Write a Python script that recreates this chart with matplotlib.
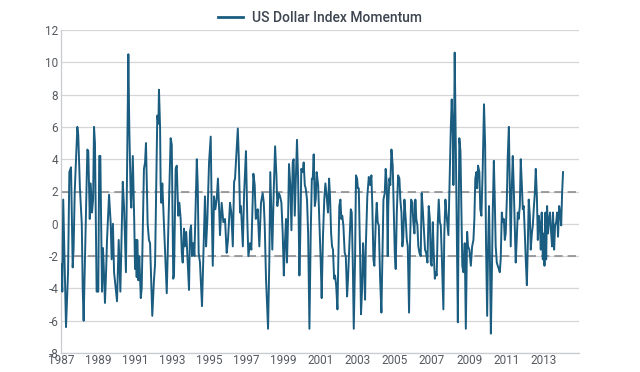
import matplotlib
matplotlib.use("Agg")
import matplotlib.pyplot as plt
import numpy as np

series_name = "US Dollar Index Momentum"

# Time (decimal years) and momentum values
years = [
    1987.00, 1987.07, 1987.12, 1987.27, 1987.38, 1987.45, 1987.54, 1987.63, 1987.68, 1987.74,
    1987.88, 1987.93, 1988.02, 1988.12, 1988.17, 1988.22, 1988.42, 1988.47, 1988.55, 1988.60,
    1988.67, 1988.73, 1988.78, 1988.83, 1988.92, 1989.01, 1989.06, 1989.12, 1989.21, 1989.26,
    1989.30, 1989.37, 1989.43, 1989.48, 1989.59, 1989.68, 1989.73, 1989.80, 1989.86, 1990.02,
    1990.11, 1990.20, 1990.33, 1990.40, 1990.50, 1990.63, 1990.68, 1990.76, 1990.79, 1990.87,
    1990.95, 1990.99, 1991.03, 1991.08, 1991.11, 1991.17, 1991.22, 1991.30, 1991.35, 1991.47,
    1991.53, 1991.58, 1991.67, 1991.74, 1991.80, 1991.85, 1991.92, 1992.01, 1992.07, 1992.19,
    1992.25, 1992.28, 1992.34, 1992.37, 1992.41, 1992.46, 1992.51, 1992.61, 1992.70, 1992.78,
    1992.91, 1992.97, 1993.05, 1993.09, 1993.18, 1993.24, 1993.32, 1993.38, 1993.45, 1993.51,
    1993.56, 1993.63, 1993.68, 1993.75, 1993.83, 1993.90, 1993.95, 1994.01, 1994.06, 1994.13,
    1994.19, 1994.32, 1994.37, 1994.42, 1994.49, 1994.60, 1994.67, 1994.76, 1994.82, 1994.89,
    1994.98, 1995.07, 1995.12, 1995.18, 1995.25, 1995.32, 1995.39, 1995.46, 1995.53, 1995.57,
    1995.66, 1995.75, 1995.84, 1995.93, 1996.00, 1996.11, 1996.18, 1996.26, 1996.33, 1996.38,
    1996.45, 1996.53, 1996.58, 1996.65, 1996.70, 1996.80, 1996.87, 1996.97, 1997.04, 1997.10,
    1997.19, 1997.26, 1997.37, 1997.44, 1997.50, 1997.55, 1997.60, 1997.69, 1997.78, 1997.87,
    1997.93, 1997.98, 1998.05, 1998.16, 1998.23, 1998.28, 1998.34, 1998.39, 1998.47, 1998.54,
    1998.61, 1998.66, 1998.74, 1998.81, 1998.88, 1998.95, 1999.01, 1999.06, 1999.13, 1999.18,
    1999.24, 1999.29, 1999.36, 1999.42, 1999.49, 1999.54, 1999.60, 1999.67, 1999.72, 1999.78,
    1999.85, 1999.90, 1999.95, 2000.03, 2000.08, 2000.14, 2000.19, 2000.26, 2000.32, 2000.39,
    2000.46, 2000.52, 2000.57, 2000.62, 2000.68, 2000.73, 2000.78, 2000.86, 2000.93, 2001.00,
    2001.05, 2001.12, 2001.19, 2001.25, 2001.32, 2001.39, 2001.45, 2001.50, 2001.56, 2001.61,
    2001.66, 2001.72, 2001.77, 2001.83, 2001.90, 2001.95, 2002.00, 2002.06, 2002.11, 2002.16,
    2002.22, 2002.29, 2002.35, 2002.42, 2002.47, 2002.54, 2002.62, 2002.67, 2002.73, 2002.78,
    2002.85, 2002.90, 2002.96, 2003.00, 2003.05, 2003.12, 2003.17, 2003.23, 2003.28, 2003.33,
    2003.39, 2003.43, 2003.51, 2003.59, 2003.66, 2003.73, 2003.78, 2003.84, 2003.89, 2003.97,
    2004.02, 2004.07, 2004.13, 2004.20, 2004.27, 2004.32, 2004.38, 2004.45, 2004.50, 2004.56,
    2004.61, 2004.64, 2004.70, 2004.75, 2004.81, 2004.88, 2004.94, 2004.99, 2005.04, 2005.10,
    2005.17, 2005.24, 2005.29, 2005.35, 2005.40, 2005.45, 2005.51, 2005.58, 2005.64, 2005.69,
    2005.76, 2005.81, 2005.87, 2005.94, 2005.99, 2006.05, 2006.10, 2006.15, 2006.21, 2006.26,
    2006.32, 2006.39, 2006.44, 2006.50, 2006.57, 2006.62, 2006.68, 2006.75, 2006.82, 2006.88,
    2006.93, 2006.98, 2007.04, 2007.09, 2007.15, 2007.20, 2007.25, 2007.31, 2007.36, 2007.42,
    2007.47, 2007.52, 2007.58, 2007.61, 2007.66, 2007.72, 2007.77, 2007.83, 2007.88, 2007.95,
    2008.01, 2008.06, 2008.12, 2008.15, 2008.19, 2008.22, 2008.28, 2008.33, 2008.39, 2008.42,
    2008.47, 2008.53, 2008.58, 2008.63, 2008.69, 2008.76, 2008.82, 2008.89, 2008.94, 2009.01,
    2009.09, 2009.16, 2009.23, 2009.28, 2009.33, 2009.39, 2009.43, 2009.48, 2009.55, 2009.60,
    2009.66, 2009.73, 2009.80, 2009.86, 2009.91, 2009.97, 2010.02, 2010.07, 2010.11, 2010.17,
    2010.22, 2010.27, 2010.33, 2010.38, 2010.43, 2010.49, 2010.54, 2010.60, 2010.65, 2010.70,
    2010.76, 2010.81, 2010.87, 2010.92, 2010.97, 2011.03, 2011.08, 2011.14, 2011.19, 2011.24,
    2011.30, 2011.35, 2011.40, 2011.46, 2011.51, 2011.57, 2011.62, 2011.67, 2011.73, 2011.78,
    2011.84, 2011.89, 2011.94, 2012.00, 2012.05, 2012.11, 2012.16, 2012.21, 2012.27, 2012.32,
    2012.38, 2012.43, 2012.48, 2012.54, 2012.59, 2012.65, 2012.70, 2012.75, 2012.81, 2012.86,
    2012.91, 2012.97, 2013.02, 2013.06, 2013.11, 2013.15, 2013.20, 2013.25, 2013.31, 2013.36,
    2013.42, 2013.47, 2013.52, 2013.58, 2013.63, 2013.69, 2013.74, 2013.79, 2013.85, 2013.90,
    2013.96, 2014.01, 2014.06,
]
momentum = [
    -2.5, -4.2, 1.5, -6.4, -3.0, 3.2, 3.5, -2.7, -1.5, 2.0,
    6.0, 5.5, 2.2, 0.0, -4.0, -6.0, 4.6, 4.5, 0.3, 2.5,
    0.7, 1.5, 6.0, 5.0, -4.2, -4.2, 4.2, 4.2, -4.2, -1.5,
    -2.5, -4.9, -3.0, -1.0, 1.8, 0.0, -2.2, 0.0, -3.0, -4.8,
    -1.0, -4.2, 2.6, 1.0, -3.0, 10.5, 6.0, 1.5, 1.0, 4.2,
    0.0, -2.8, -1.0, -3.3, -1.0, -3.5, -2.0, -4.6, -4.0, 3.4,
    3.8, 5.0, 0.0, -1.0, -1.2, -3.0, -5.7, -3.5, -2.5, 6.7,
    6.2, 8.3, 6.0, 2.5, 1.3, 2.5, 1.1, -1.8, -4.3, -0.5,
    5.3, 4.9, -3.4, -3.2, 3.4, 3.6, 0.5, 1.3, 0.3, -1.8,
    -2.4, -0.3, -1.4, -0.5, -2.4, -4.1, -0.5, -0.1, -2.0, -1.2,
    -2.0, 4.0, 2.4, -1.8, -2.4, -5.1, -2.2, 1.7, -1.4, 0.3,
    3.8, 5.4, 1.1, -2.6, 1.7, 0.9, 1.5, 2.8, 0.7, -0.7,
    1.3, 0.1, 0.3, -1.8, -1.0, 1.3, 0.7, -1.4, 2.6, 2.8,
    4.2, 5.9, 4.2, 0.7, 1.1, -1.4, 1.9, 4.5, 0.3, -2.0,
    -1.2, -1.6, 3.1, 2.4, 0.3, 0.5, 0.9, -1.4, 1.3, 1.9,
    1.3, -0.1, -3.4, -6.5, -2.2, 3.2, 0.7, -1.6, 2.2, 4.8,
    3.0, 1.1, 1.9, 1.7, 1.3, -0.6, -3.2, -1.4, 0.3, -2.4,
    0.3, 3.7, 2.4, -0.4, 3.8, 4.0, 0.5, 3.2, 5.2, 2.8,
    -3.2, -0.6, 3.4, 3.2, 3.8, 2.4, 2.2, 1.5, -0.6, -6.5,
    -0.6, 2.8, 2.8, 4.3, 1.1, 1.5, 3.2, 2.4, -0.1, -2.4,
    -4.6, -0.8, 1.5, 2.5, 1.7, 0.7, 2.8, 1.7, -0.6, -1.4,
    -1.6, -3.4, -3.2, -3.8, -5.3, -2.2, 1.1, 1.5, 0.3, 0.5,
    -0.1, -1.8, -2.0, -4.5, -3.4, -1.4, 0.9, 0.7, -2.6, -6.5,
    -2.2, 3.0, 2.8, 2.2, 2.2, -1.8, -5.6, -4.0, -1.2, -2.4,
    -4.7, -1.4, 1.7, 2.9, 2.4, 3.0, 1.1, -2.2, -2.6, 0.3,
    1.3, 0.1, -0.1, -3.4, -5.5, -2.4, 1.5, 1.9, 3.4, 2.4,
    -2.0, 1.1, 2.8, 2.4, 4.6, 3.6, 0.7, -1.8, -2.8, 0.7,
    3.0, 2.8, 1.5, 0.7, -1.4, -0.8, 1.5, 0.3, -1.0, -1.4,
    -5.5, -1.4, 1.5, 1.3, 0.1, -0.6, 1.5, 0.3, -0.1, -1.4,
    -1.8, -2.0, 1.9, 0.9, -0.6, -1.6, -1.8, -2.4, 1.1, 0.3,
    -2.4, -2.6, 0.1, -1.8, -3.4, -3.0, -3.2, 0.1, 1.5, 0.1,
    -0.1, -1.8, -4.1, -5.3, -0.6, 1.5, 0.7, -0.1, -0.7, 2.8,
    5.9, 7.7, 5.5, 2.4, 6.1, 10.6, 5.0, -0.1, -6.1, -1.4,
    5.3, 4.5, 0.9, -2.6, -3.0, -1.2, -6.5, -0.5, -1.4, -1.6,
    -2.6, -1.4, -1.0, 0.3, 2.8, 3.2, 2.2, 3.6, 3.2, 0.9,
    0.5, 3.4, 7.4, 4.9, -1.4, -5.7, -1.4, 1.1, -1.4, -6.8,
    -3.4, 0.7, 3.9, 1.5, -1.4, -2.4, -2.6, -2.8, -3.0, -2.2,
    0.7, 0.1, 0.3, -1.0, -0.6, 1.5, 4.2, 6.0, 2.4, -1.4,
    2.4, 4.2, 2.4, -0.1, -2.4, -0.8, 0.7, 0.3, 1.1, 4.0,
    2.4, 0.9, 1.1, -0.6, -2.2, -3.8, -1.4, 1.5, 0.5, -1.6,
    -0.6, -0.1, 0.9, 1.9, 3.4, 1.7, -1.0, 0.5, -0.1, -1.6,
    0.7, -2.2, -0.6, -2.6, 0.7, -2.2, 1.1, -0.6, 0.3, 0.7,
    -0.6, -1.4, 0.7, -1.6, -0.1, 0.1, 0.7, -0.8, 1.1, 0.7,
    -0.1, 1.9, 3.2,
]

y_ticks = [12, 10, 8, 6, 4, 2, 0, -2, -4, -6, -8]
x_ticks = [1987, 1989, 1991, 1993, 1995, 1997, 1999, 2001, 2003, 2005, 2007, 2009, 2011, 2013]
threshold_levels = [2, -2]

line_color = "#1b5d80"
text_color = "#555a60"

plt.rcParams['font.family'] = ['Roboto', 'DejaVu Sans']

fig = plt.figure(figsize=(6.4, 3.72), dpi=100)
fig.patch.set_facecolor("white")
ax = fig.add_axes([61 / 640, 1 - 353 / 372, (579 - 61) / 640, (353 - 30) / 372])

ax.set_xlim(1987, 2014.92)
ax.set_ylim(-8, 12)

for yv in y_ticks:
    ax.axhline(yv, color="#d4d6d9", lw=0.9, zorder=0)
for lv in threshold_levels:
    ax.axhline(lv, color="#8c8f93", lw=1.2, ls=(0, (5, 3)), zorder=1)

ax.plot(years, momentum, color=line_color, lw=1.4, label=series_name, zorder=3,
        solid_joinstyle="round")

ax.set_yticks(y_ticks)
ax.set_yticklabels([str(v) for v in y_ticks])
ax.set_xticks(x_ticks)
ax.set_xticklabels([str(v) for v in x_ticks])
ax.tick_params(axis="both", length=0, labelsize=8.5, colors=text_color)
ax.tick_params(axis="x", pad=1)
ax.tick_params(axis="y", pad=2)

for s in ["top", "right"]:
    ax.spines[s].set_visible(False)
for s in ["left", "bottom"]:
    ax.spines[s].set_color("#c8cbcf")
    ax.spines[s].set_linewidth(0.9)

leg = fig.legend(loc="center", bbox_to_anchor=(0.5, 1 - 18 / 372), frameon=False,
                 handlelength=1.8, handletextpad=0.6,
                 prop={"family": ["Roboto", "DejaVu Sans"], "size": 10, "weight": "medium"})
for t in leg.get_texts():
    t.set_color("#3c4550")
for h in leg.get_lines():
    h.set_linewidth(2)

fig.savefig("out.png", dpi=100, facecolor="white")
